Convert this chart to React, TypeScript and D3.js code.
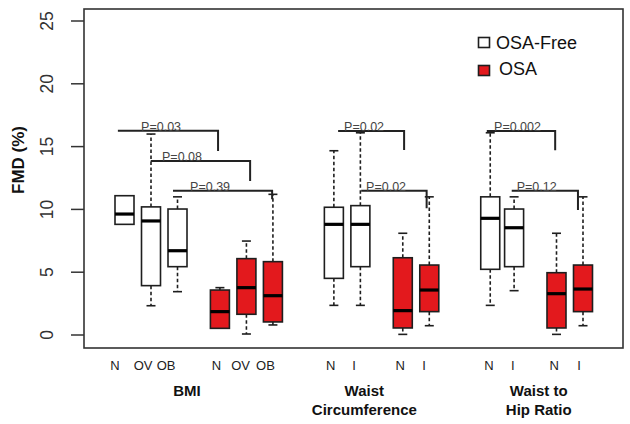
import React from "react";
import * as d3 from "d3";

// ---- data ----
const boxPos = [1, 2, 3, 4.6, 5.6, 6.6, 8.9, 9.9, 11.5, 12.5, 14.8, 15.7, 17.3, 18.3];
const boxGroup = ["free", "free", "free", "osa", "osa", "osa", "free", "free", "osa", "osa", "free", "free", "osa", "osa"];
const boxLo = [8.81, 2.33, 3.45, 0.53, 0.08, 0.8, 2.36, 2.36, 0.05, 0.74, 2.36, 3.53, 0.05, 0.74];
const boxQ1 = [8.81, 3.93, 5.44, 0.53, 1.65, 1.04, 4.51, 5.44, 0.56, 1.86, 5.23, 5.44, 0.56, 1.86];
const boxMed = [9.63, 9.08, 6.71, 1.86, 3.77, 3.13, 8.81, 8.81, 1.94, 3.58, 9.29, 8.54, 3.29, 3.66];
const boxQ3 = [11.09, 10.2, 10.03, 3.58, 6.08, 5.84, 10.17, 10.3, 6.15, 5.57, 11.0, 10.03, 4.96, 5.57];
const boxHi = [11.09, 16.0, 11.0, 3.77, 7.48, 11.2, 14.67, 16.1, 8.1, 11.0, 16.1, 11.0, 8.1, 11.0];

const tickLabels = ["N", "OV", "OB", "N", "OV", "OB", "N", "I", "N", "I", "N", "I", "N", "I"];
const tickLabelPos = [0.64, 1.7, 2.57, 4.47, 5.38, 6.32, 8.78, 9.66, 11.4, 12.3, 14.75, 15.65, 17.21, 18.15];

const groupLines = [["BMI"], ["Waist", "Circumference"], ["Waist to", "Hip Ratio"]];
const groupPos = [3.36, 10.05, 16.63];

const pLabels = ["P=0.03", "P=0.08", "P=0.39", "P=0.02", "P=0.02", "P=0.002", "P=0.12"];
const pStart = [0.75, 1.99, 2.83, 9.06, 9.93, 14.67, 15.61];
const pEnd = [4.53, 5.74, 6.57, 11.55, 12.4, 17.25, 18.11];
const pLevel = [16.26, 13.85, 11.49, 16.24, 11.49, 16.24, 11.49];
const pDrop = [14.65, 12.26, 10.8, 14.73, 10.1, 14.7, 9.95];
const pLabelPos = [2.38, 3.17, 4.23, 10.04, 10.87, 15.83, 16.55];

const yTicks = [0, 5, 10, 15, 20, 25];

const legendLabels = ["OSA-Free", "OSA"];

const RED = "#e3191d";
const INK = "#1e1e1e";

export default function App() {
  const width = 630;
  const height = 424;
  const x = d3.scaleLinear().domain([1, 18.3]).range([124.5, 583]);
  const y = d3.scaleLinear().domain([0, 25]).range([335, 21]);
  const hw = 9.5;
  const cap = 4.5;
  const font = "Liberation Sans, Arial, sans-serif";

  return (
    <svg width={width} height={height} style={{ position: "absolute", left: 0, top: 0, background: "#fff" }} fontFamily={font}>
      {/* frame */}
      <rect x={84} y={9} width={539} height={339} fill="none" stroke="#333" strokeWidth={1.6} />

      {/* y axis */}
      {yTicks.map((t) => (
        <g key={t}>
          <line x1={71} x2={84} y1={y(t)} y2={y(t)} stroke="#333" strokeWidth={1.5} />
          <text
            transform={`translate(53,${y(t)}) rotate(-90)`}
            textAnchor="middle"
            fontSize={17.5}
            fill="#333"
          >
            {t}
          </text>
        </g>
      ))}
      <text
        transform={`translate(24,160) rotate(-90)`}
        textAnchor="middle"
        fontSize={17}
        fontWeight="bold"
        fill="#111"
      >
        FMD (%)
      </text>

      {/* boxes */}
      {boxPos.map((p, i) => {
        const cx = x(p);
        const fill = boxGroup[i] === "osa" ? RED : "#fff";
        return (
          <g key={i}>
            {boxHi[i] > boxQ3[i] + 0.05 && (
              <>
                <line x1={cx} x2={cx} y1={y(boxQ3[i])} y2={y(boxHi[i])} stroke={INK} strokeWidth={1.6} strokeDasharray="3.5,2.5" />
                <line x1={cx - cap} x2={cx + cap} y1={y(boxHi[i])} y2={y(boxHi[i])} stroke={INK} strokeWidth={1.6} />
              </>
            )}
            {boxLo[i] < boxQ1[i] - 0.05 && (
              <>
                <line x1={cx} x2={cx} y1={y(boxQ1[i])} y2={y(boxLo[i])} stroke={INK} strokeWidth={1.6} strokeDasharray="3.5,2.5" />
                <line x1={cx - cap} x2={cx + cap} y1={y(boxLo[i])} y2={y(boxLo[i])} stroke={INK} strokeWidth={1.6} />
              </>
            )}
            <rect
              x={cx - hw}
              y={y(boxQ3[i])}
              width={hw * 2}
              height={y(boxQ1[i]) - y(boxQ3[i])}
              fill={fill}
              stroke={INK}
              strokeWidth={1.6}
            />
            <line x1={cx - hw} x2={cx + hw} y1={y(boxMed[i])} y2={y(boxMed[i])} stroke="#000" strokeWidth={3.2} />
          </g>
        );
      })}

      {/* p-value brackets */}
      {pLabels.map((lab, i) => {
        const x0 = x(pStart[i]);
        const x1 = x(pEnd[i]);
        const yy = y(pLevel[i]);
        return (
          <g key={i}>
            <path d={`M${x0},${yy}H${x1}V${y(pDrop[i])}`} fill="none" stroke="#222" strokeWidth={2} />
            <text x={x(pLabelPos[i])} y={yy} textAnchor="middle" fontSize={12.5} fill="#444">
              {lab}
            </text>
          </g>
        );
      })}

      {/* x tick labels */}
      {tickLabels.map((t, i) => (
        <text key={i} x={x(tickLabelPos[i])} y={370} textAnchor="middle" fontSize={13} fill="#222">
          {t}
        </text>
      ))}

      {/* group labels */}
      {groupLines.map((lines, i) => (
        <text key={i} textAnchor="middle" fontSize={15} fontWeight="bold" fill="#111">
          {lines.map((l, j) => (
            <tspan key={j} x={x(groupPos[i])} y={396 + j * 19}>
              {l}
            </tspan>
          ))}
        </text>
      ))}

      {/* legend */}
      {legendLabels.map((l, i) => (
        <g key={l}>
          <rect
            x={478.5}
            y={37.5 + i * 28}
            width={11}
            height={10}
            fill={i === 0 ? "#fff" : RED}
            stroke={INK}
            strokeWidth={1.6}
          />
          <text x={i === 0 ? 496 : 499} y={49 + i * 26} fontSize={18} fill="#111">
            {l}
          </text>
        </g>
      ))}
    </svg>
  );
}
